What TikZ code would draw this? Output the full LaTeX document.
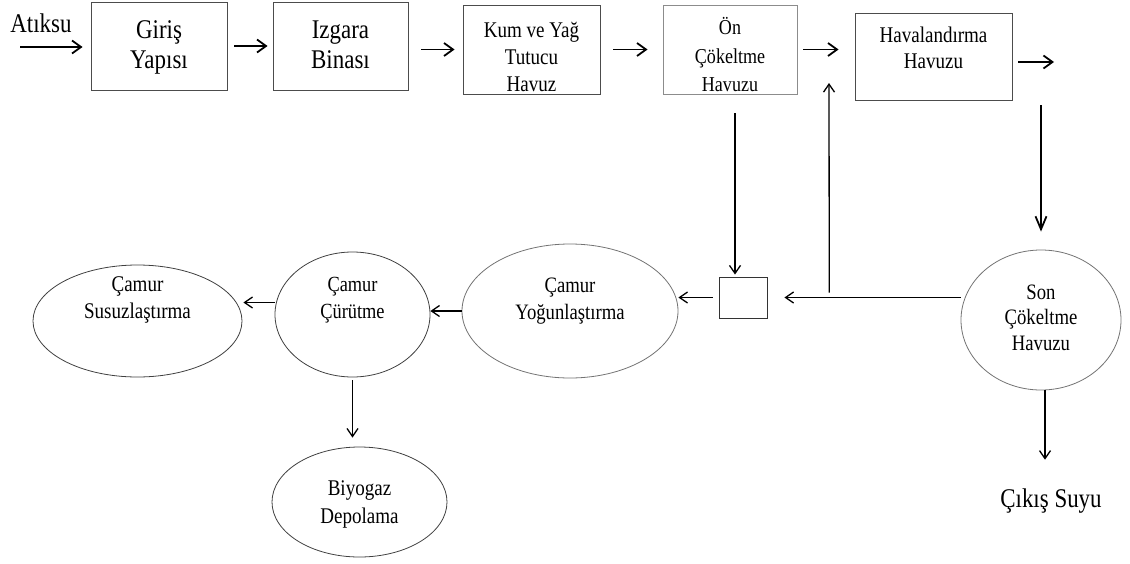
\documentclass[tikz,border=0pt]{standalone}
\usepackage{fontspec}
\setmainfont[FakeStretch=0.85]{Liberation Serif}
\usetikzlibrary{positioning, shapes.geometric, arrows.meta}
\tikzset{
  unit/.style={draw=black!70, line width=0.9pt, inner sep=0pt, align=center},
  pool/.style={ellipse, draw=black!75, line width=0.8pt, inner sep=0pt, align=center},
  textlift/.style={text height=#1, text depth=0pt},
  textsink/.style={text height=0pt, text depth=#1},
  flow/.style={-{Straight Barb[length=9pt, width=13pt]}, line width=1.8pt},
  slim flow/.style={-{Straight Barb[length=8pt, width=11pt]}, line width=1.3pt},
}

\begin{document}
\begin{tikzpicture}[x=1pt, y=-1pt]
  \useasboundingbox (0,0) rectangle (1130,563);
  % --- Main line ---
  \node[font=\fontsize{27}{30}\selectfont, anchor=base, inner sep=0pt] (atiksu) at (41,32) {Atıksu};
  \coordinate (feed) at (20,47);
  \node[unit, font=\fontsize{27}{30}\selectfont, minimum width=136pt, minimum height=88pt,
        textlift=44pt] (giris) at (159,46) {Giriş\\Yapısı};
  \node[unit, font=\fontsize{27}{30}\selectfont, minimum width=135pt, minimum height=88pt,
        textlift=44pt] (izgara) at (340.5,46) {Izgara\\Binası};
  \node[unit, font=\fontsize{22.4}{27}\selectfont, minimum width=137pt, minimum height=89pt,
        textlift=83pt] (kum) at (531.5,49.5) {Kum ve Yağ\\Tutucu\\Havuz};
  \node[unit, draw=black!45, font=\fontsize{21.2}{28.5}\selectfont, minimum width=134pt, minimum height=89pt,
        textlift=84pt] (on) at (730,49.5) {Ön\\Çökeltme\\Havuzu};
  \node[unit, font=\fontsize{22.4}{26}\selectfont, minimum width=157pt, minimum height=87pt,
        textlift=23pt] (hava) at (933.5,56.5) {Havalandırma\\Havuzu};
  \coordinate (out) at (1054,62);

  \draw[flow, shorten >=8pt] (feed) -- (feed -| giris.west);
  \draw[flow, shorten <=7pt, shorten >=5pt] (giris) -- (izgara);
  \draw[flow, shorten <=13pt, shorten >=8pt] (izgara.east |- kum.west) -- (kum.west);
  \draw[flow, shorten <=13pt, shorten >=15pt] (kum) -- (on);
  \draw[flow, shorten <=6pt, shorten >=16pt] (on.east) -- (on.east -| hava.west);
  \draw[flow, shorten <=6pt] (hava.east |- out) -- (out);

  % --- Settling and sludge line ---
  \node[pool, draw=black!55, font=\fontsize{22}{25.5}\selectfont, minimum width=160pt, minimum height=140pt,
        textlift=60pt] (son) at (1041,320) {Son\\Çökeltme\\Havuzu};
  \node[font=\fontsize{27}{30}\selectfont, anchor=base] (cikis) at (1051,507) {Çıkış Suyu};
  \node[draw=black!80, line width=0.9pt, minimum width=48pt, minimum height=41pt, inner sep=0pt] (kutu) at (743,297.5) {};
  \node[pool, draw=black!55, font=\fontsize{22}{27}\selectfont, minimum width=216pt, minimum height=134pt,
        textlift=16pt] (yogun) at (570,311) {Çamur\\Yoğunlaştırma};
  \node[pool, font=\fontsize{21.6}{27}\selectfont, minimum width=155pt, minimum height=125pt,
        textlift=7pt] (curutme) at (352.5,314.5) {Çamur\\Çürütme};
  \node[pool, font=\fontsize{22.4}{27}\selectfont, minimum width=209pt, minimum height=112pt,
        textsink=6pt] (susuz) at (137.5,321) {Çamur\\Susuzlaştırma};
  \node[pool, font=\fontsize{22.4}{28}\selectfont, minimum width=175pt, minimum height=110pt,
        textlift=42pt] (biyogaz) at (359.5,502) {Biyogaz\\Depolama};
  \coordinate (down) at (1041,105);
  \coordinate (ret end) at (829,83);

  \draw[flow, -{Straight Barb[length=13pt, width=11pt]}, shorten >=18pt] (down) -- (son.north);
  \draw[slim flow, shorten >=25pt] ([xshift=4pt]son.south) -- ([xshift=4pt]son.south |- cikis.north);
  \draw[slim flow, shorten <=19pt, shorten >=2pt] ([xshift=-8pt]kutu.north |- on.south) -- ([xshift=-8pt]kutu.north);
  \draw[slim flow, shorten >=17pt] (son.west |- kutu.east) -- coordinate[pos=0.68] (ret) (kutu.east);
  \draw[slim flow] ([yshift=5pt]ret) -- (ret end);
  \draw[slim flow, shorten <=6pt] (kutu.west) -- (kutu.west -| yogun.east);
  \draw[slim flow] (yogun.west) -- (yogun.west -| curutme.east);
  \draw[slim flow, shorten >=1pt] ([yshift=12pt]curutme.west) -- ([yshift=12pt]curutme.west -| susuz.east);
  \draw[slim flow, shorten <=3pt, shorten >=9pt] (curutme.south) -- (curutme.south |- biyogaz.north);
\end{tikzpicture}
\end{document}
